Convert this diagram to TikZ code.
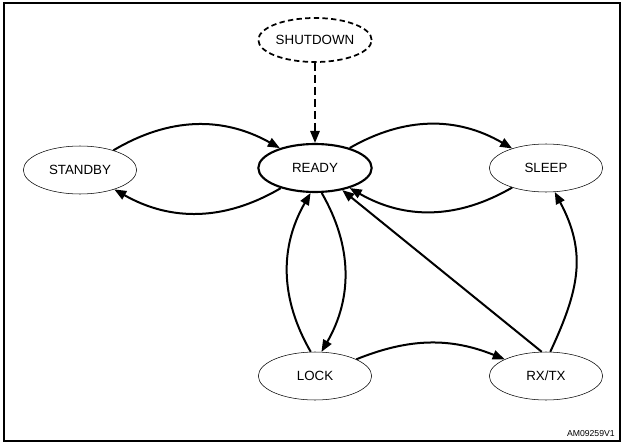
\documentclass[tikz,border=0pt]{standalone}
\usepackage{fontspec}
\setmainfont{Liberation Sans}
\usetikzlibrary{arrows.meta,shapes.geometric}

\begin{document}
\begin{tikzpicture}[x=0.75pt,y=0.75pt,
    state/.style={draw, ellipse, line width=0.4pt, inner sep=0pt, minimum width=85pt, minimum height=36pt, font=\fontsize{10}{12}\selectfont},
    trans/.style={line width=1.5pt, -{Triangle[length=9pt,width=7pt]}}]
\useasboundingbox (0,0) rectangle (622,444);

%Frame
    \draw [line width=0.8pt]  (4,3) rectangle (620,441) ;

%Shape: Ellipse [states]
    \node [state, dashed, line width=1.3pt, dash pattern=on 4pt off 2.5pt, minimum height=33pt] (shutdown) at (315,404) {SHUTDOWN};
    \node [state, line width=1.6pt] (ready) at (315,276) {READY};
    \node [state] (standby) at (80,274) {STANDBY};
    \node [state] (sleep) at (546,276) {SLEEP};
    \node [state] (lock) at (315,68) {LOCK};
    \node [state] (rxtx) at (546,68) {RX/TX};

%Straight Lines [dashed]
    \draw [trans, dash pattern=on 6pt off 3pt]  (shutdown) -- (ready) ;
%Curves [standby, sleep]
    \draw [trans]  (standby) to [bend left=30] (ready) ;
    \draw [trans]  (ready) to [bend left=30] (standby) ;
    \draw [trans]  (ready) to [bend left=30] (sleep) ;
    \draw [trans]  (sleep) to [bend left=30] (ready) ;
%Curves [lock]
    \draw [trans]  (lock.100) to [out=120,in=240] (ready.260) ;
    \draw [trans]  (ready.285) to [out=-60,in=60] (lock.75) ;
    \draw [trans]  (lock) to [bend left=22] (rxtx) ;
%Rx/Tx
    \draw [trans]  (rxtx.100) -- (ready) ;
    \draw [trans]  (rxtx.80) to [out=65,in=-62,looseness=1.1] (sleep.290) ;

% Text Node
    \draw (616,6) node [anchor=south east][inner sep=0.75pt]  [font=\fontsize{6.5}{7}\selectfont] {AM09259V1};

\end{tikzpicture}
\end{document}
